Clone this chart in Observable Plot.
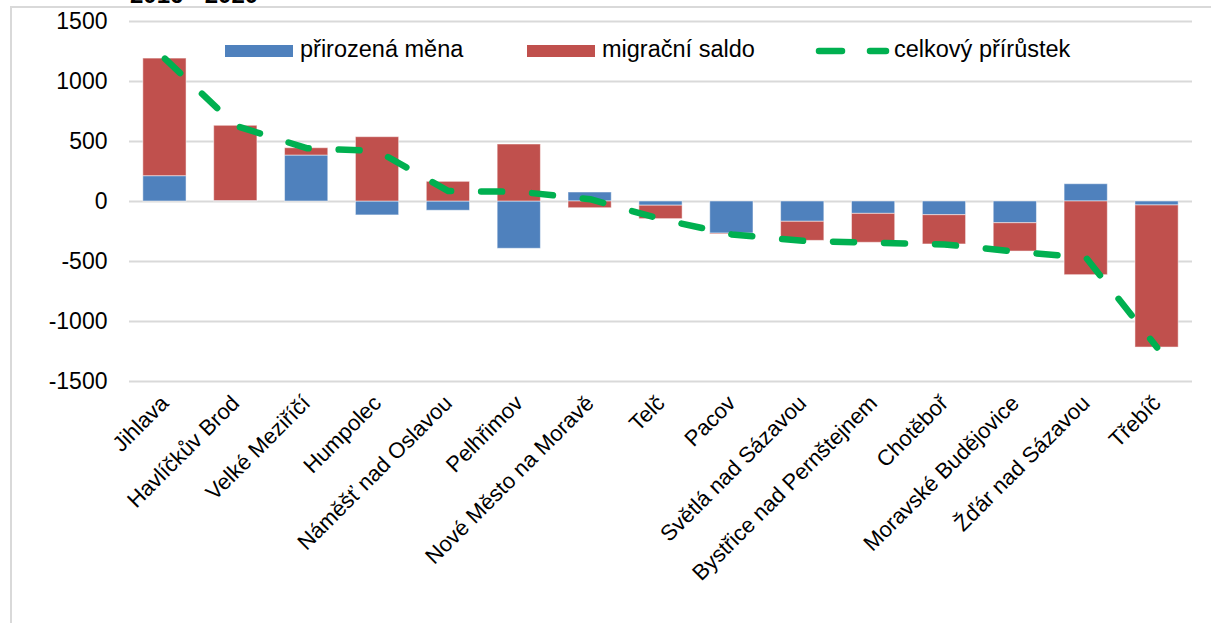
<!DOCTYPE html>
<html><head><meta charset="utf-8">
<script src="https://cdn.jsdelivr.net/npm/d3@7"></script>
<script src="https://cdn.jsdelivr.net/npm/@observablehq/plot@0.6"></script>
<style>
body{margin:0;background:#fff;font-family:"Liberation Sans",Arial,sans-serif;}
#wrap{position:relative;width:1211px;height:623px;overflow:hidden;background:#fff;}
#frame{position:absolute;left:10px;top:6px;width:1230px;height:660px;border-top:2px solid #d9d9d9;border-left:2px solid #d9d9d9;pointer-events:none;}
#title{position:absolute;left:130px;top:-17px;font-weight:bold;font-size:24px;line-height:24px;color:#000;white-space:nowrap;}
.lg{position:absolute;font-size:23.5px;line-height:23px;top:37.5px;color:#000;white-space:nowrap;}
.sw{position:absolute;top:45px;width:68px;height:12px;}
#lgline{position:absolute;left:0;top:0;}
</style></head>
<body>
<div id="wrap">
  <div id="chart"></div>
  <div id="frame"></div>
  <div id="title">2016 - 2020</div>
  <div class="sw" style="left:225px;background:#4F81BD"></div>
  <div class="lg" style="left:300px">přirozená měna</div>
  <div class="sw" style="left:527px;background:#C0504D"></div>
  <div class="lg" style="left:602px">migrační saldo</div>
  <svg id="lgline" width="1211" height="80"><line x1="819" y1="51" x2="842" y2="51" stroke="#00B050" stroke-width="6.5" stroke-linecap="round"/><line x1="870" y1="51" x2="886" y2="51" stroke="#00B050" stroke-width="6.5" stroke-linecap="round"/></svg>
  <div class="lg" style="left:894px">celkový přírůstek</div>
</div>
<script>
const categories = ["Jihlava","Havlíčkův Brod","Velké Meziříčí","Humpolec","Náměšť nad Oslavou","Pelhřimov","Nové Město na Moravě","Telč","Pacov","Světlá nad Sázavou","Bystřice nad Pernštejnem","Chotěboř","Moravské Budějovice","Žďár nad Sázavou","Třebíč"];
const prirozenaMena = [211, 4, 383, -116, -77, -394, 75, -35, -268, -169, -103, -114, -181, 144, -33];
const migracniSaldo = [980, 627, 61, 536, 164, 475, -56, -112, -7, -159, -241, -244, -236, -614, -1184];
const celkovyPrirustek = [1191, 631, 444, 420, 87, 81, 19, -147, -275, -328, -344, -358, -417, -470, -1217];
const seriesNames = ["přirozená měna", "migrační saldo"];
const yTicks = [-1500, -1000, -500, 0, 500, 1000, 1500];

const bars = categories.flatMap((c, i) => [
  {city: c, kind: seriesNames[0], value: prirozenaMena[i]},
  {city: c, kind: seriesNames[1], value: migracniSaldo[i]}
]);
const line = categories.map((c, i) => ({city: c, total: celkovyPrirustek[i]}));

const chart = Plot.plot({
  width: 1211, height: 623,
  marginLeft: 129, marginRight: 19, marginTop: 21, marginBottom: 242,
  style: {fontFamily: "Liberation Sans, Arial, sans-serif", fontSize: "23px", color: "#000", background: "transparent"},
  x: {domain: categories, paddingInner: 0.39, paddingOuter: 0.195, round: false, label: null},
  y: {domain: [-1500, 1500], label: null},
  color: {domain: seriesNames, range: ["#4F81BD", "#C0504D"]},
  marks: [
    Plot.gridY(yTicks, {stroke: "#d9d9d9", strokeOpacity: 1, strokeWidth: 2}),
    Plot.barY(bars, {x: "city", y: "value", fill: "kind", stroke: "#ffffff", strokeOpacity: 0.5, strokeWidth: 1}),
    Plot.line(line, {x: "city", y: "total", stroke: "#00B050", strokeWidth: 6.5, strokeDasharray: "21,30", strokeLinecap: "round"}),
    Plot.axisY(yTicks, {tickSize: 0, tickPadding: 22, tickFormat: d => String(d), fontSize: 23}),
    Plot.axisX({tickSize: 0, tickPadding: 18, tickRotate: -45, fontSize: 22})
  ]
});
document.getElementById("chart").appendChild(chart);
</script>
</body></html>
